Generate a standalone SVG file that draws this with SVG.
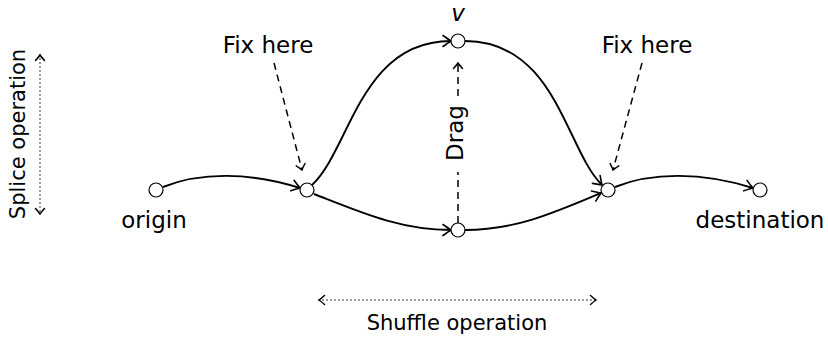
<svg xmlns="http://www.w3.org/2000/svg" width="828" height="340" viewBox="0 0 828 340">
<style>
text{font-family:"DejaVu Sans",sans-serif;fill:#000}
.lbl{font-size:23px}
.op{font-size:21px}
.node{fill:#fff;stroke:#000;stroke-width:1.2}
.edge{fill:none;stroke:#000;stroke-width:1.9;marker-end:url(#to)}
.dash{fill:none;stroke:#000;stroke-width:1.5;stroke-dasharray:7 5}
.dot{fill:none;stroke:#000;stroke-width:1.5;stroke-dasharray:0 4;stroke-linecap:round}
</style>
<defs>
<marker id="to" markerUnits="userSpaceOnUse" markerWidth="14" markerHeight="14" viewBox="-10 -7 12 14" refX="0" refY="0" orient="auto" overflow="visible">
<path d="M-8,-5.5 Q-2.5,-1.5 0,0 Q-2.5,1.5 -8,5.5" fill="none" stroke="#000" stroke-width="1.6" stroke-linecap="round"/>
</marker>
<marker id="tos" markerUnits="userSpaceOnUse" markerWidth="12" markerHeight="12" viewBox="-8 -6 10 12" refX="0" refY="0" orient="auto-start-reverse" overflow="visible">
<path d="M-5.5,-4.5 Q-1.5,-1 0,0 Q-1.5,1 -5.5,4.5" fill="none" stroke="#000" stroke-width="1.5" stroke-linecap="round" stroke-dasharray="none"/>
</marker>
</defs>
<g id="connectors">
<path class="edge" d="M163,187 C200,172 250,172 300,188"/>
<path class="edge" d="M312,185 C350,150 360,41 451,41"/>
<path class="edge" d="M314,194 C360,212 400,230 451,230"/>
<path class="edge" d="M465,41 C556,41 566,150 602,185"/>
<path class="edge" d="M465,230 C516,230 556,212 601,193"/>
<path class="edge" d="M615,187 C652,172 702,172 753,188"/>
<path class="dash" d="M274,63 L302,170" marker-end="url(#tos)"/>
<path class="dash" d="M642,63 L613,170" marker-end="url(#tos)"/>
<path class="dash" d="M458,223 L458,172"/>
<path class="dash" d="M458,96 L458,63" marker-end="url(#tos)"/>
<path class="dot" d="M40,55 L40,214" marker-start="url(#tos)" marker-end="url(#tos)"/>
<path class="dot" d="M319,300 L596,300" marker-start="url(#tos)" marker-end="url(#tos)"/>
</g>
<g id="origin"><circle class="node" cx="156" cy="190" r="7"/><text class="lbl" x="154" y="228" text-anchor="middle">origin</text></g>
<g id="n2"><circle class="node" cx="307" cy="190" r="7"/></g>
<g id="v"><circle class="node" cx="458" cy="41" r="7"/><text class="lbl" x="458" y="21" text-anchor="middle" font-style="italic">v</text></g>
<g id="bottom"><circle class="node" cx="458" cy="230" r="7"/></g>
<g id="n4"><circle class="node" cx="608" cy="190" r="7"/></g>
<g id="destination"><circle class="node" cx="760" cy="190" r="7"/><text class="lbl" x="760" y="228" text-anchor="middle">destination</text></g>
<g id="fix-left"><text class="lbl" x="268" y="53" text-anchor="middle">Fix here</text></g>
<g id="fix-right"><text class="lbl" x="647" y="53" text-anchor="middle">Fix here</text></g>
<g id="drag"><text class="lbl" transform="translate(463,133) rotate(-90)" text-anchor="middle">Drag</text></g>
<g id="splice"><text class="op" transform="translate(25,134) rotate(-90)" text-anchor="middle">Splice operation</text></g>
<g id="shuffle"><text class="op" x="457" y="330" text-anchor="middle">Shuffle operation</text></g>
</svg>
